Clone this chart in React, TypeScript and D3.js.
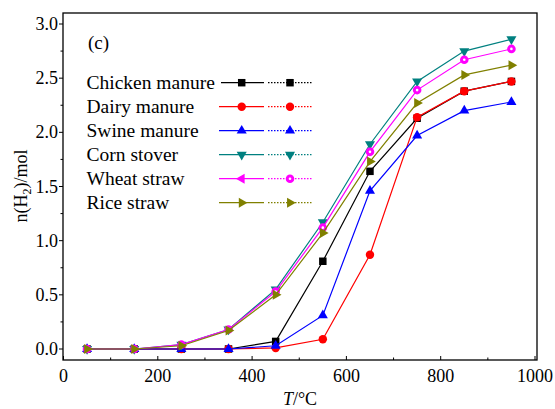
import React from "react";
import * as d3 from "d3";

// temperatures (°C) and n(H2) per series
const temps = [50, 150, 250, 350, 450, 550, 650, 750, 850, 950];
const chicken = [0, 0, 0, 0, 0.07, 0.81, 1.64, 2.13, 2.38, 2.47];
const dairy = [0, 0, 0, 0, 0.01, 0.09, 0.87, 2.14, 2.38, 2.47];
const swine = [0, 0, 0, 0, 0.03, 0.31, 1.46, 1.97, 2.2, 2.28];
const corn = [0, 0, 0.04, 0.18, 0.55, 1.17, 1.89, 2.47, 2.75, 2.86];
const wheat = [0, 0, 0.04, 0.18, 0.53, 1.12, 1.82, 2.39, 2.67, 2.77];
const rice = [0, 0, 0.03, 0.17, 0.5, 1.07, 1.73, 2.27, 2.53, 2.62];

const names = ["Chicken manure", "Dairy manure", "Swine manure", "Corn stover", "Wheat straw", "Rice straw"];
const colors = ["#000000", "#ff0000", "#0000ff", "#008080", "#ff00ff", "#808000"];
const values = [chicken, dairy, swine, corn, wheat, rice];

const xTicks = [0, 200, 400, 600, 800, 1000];
const yTicks = [0, 0.5, 1, 1.5, 2, 2.5, 3];

const FONT = "'Liberation Serif', 'Times New Roman', serif";

// marker: [d3 symbol, rotation, area]
const shapes: [d3.SymbolType, number, number][] = [
  [d3.symbolSquare, 0, 56],
  [d3.symbolCircle, 0, 56],
  [d3.symbolTriangle, 0, 44],
  [d3.symbolTriangle, 180, 44],
  [d3.symbolTriangle, -90, 44],
  [d3.symbolTriangle, 90, 44],
];

function Marker({ i, x, y, alt }: { i: number; x: number; y: number; alt?: boolean }) {
  const c = colors[i];
  if (i === 4 && alt) {
    // wheat straw, second series: circle with a light centre
    return (
      <g transform={`translate(${x},${y})`}>
        <circle r={4.3} fill={c} />
        <circle r={1.3} fill="#fff" />
      </g>
    );
  }
  const [type, rot, size] = shapes[i];
  const d = d3.symbol().type(type).size(size)()!;
  return <path d={d} fill={c} transform={`translate(${x},${y}) rotate(${rot})`} />;
}

export default function App() {
  const left = 63, right = 537, top = 13, bottom = 360;
  const x = d3.scaleLinear().domain([0, 1000]).range([63.5, 535]);
  const y = d3.scaleLinear().domain([0, 3]).range([349, 24]);

  const line = d3
    .line<number>()
    .x((_, k) => x(temps[k]))
    .y((v) => y(v));

  const xMinor = d3.range(100, 1000, 200);
  const yMinor = d3.range(0.25, 3, 0.5);

  return (
    <svg width={555} height={409} style={{ position: "absolute", left: 0, top: 0, background: "#fff" }} fontFamily={FONT}>
      {/* series */}
      {values.map((vals, i) => (
        <g key={names[i]}>
          <path d={line(vals)!} fill="none" stroke={colors[i]} strokeWidth={1.2} />
          {vals.map((v, k) => (
            <Marker key={k} i={i} x={x(temps[k])} y={y(v)} alt />
          ))}
        </g>
      ))}

      {/* frame */}
      <rect x={left} y={top} width={right - left} height={bottom - top} fill="none" stroke="#000" strokeWidth={1.3} />

      {/* x axis ticks (inward) */}
      {xTicks.map((t) => (
        <g key={t}>
          <line x1={x(t)} x2={x(t)} y1={bottom} y2={bottom - 4} stroke="#000" strokeWidth={1} />
          <text x={x(t)} y={382} fontSize={18} textAnchor="middle">
            {t}
          </text>
        </g>
      ))}
      {xMinor.map((t) => (
        <line key={t} x1={x(t)} x2={x(t)} y1={bottom} y2={bottom - 2.5} stroke="#000" strokeWidth={1} />
      ))}

      {/* y axis ticks (outward) */}
      {yTicks.map((t) => (
        <g key={t}>
          <line x1={left} x2={left - 4} y1={y(t)} y2={y(t)} stroke="#000" strokeWidth={1} />
          <text x={58} y={y(t) + 6} fontSize={18} textAnchor="end">
            {d3.format(".1f")(t)}
          </text>
        </g>
      ))}
      {yMinor.map((t) => (
        <line key={t} x1={left} x2={left - 2.5} y1={y(t)} y2={y(t)} stroke="#000" strokeWidth={1} />
      ))}

      {/* axis titles */}
      <text x={300} y={405} fontSize={18} textAnchor="middle">
        <tspan fontStyle="italic">T</tspan>/°C
      </text>
      <text transform="translate(27,186) rotate(-90)" fontSize={18} textAnchor="middle">
        n(H<tspan fontSize={12} dy={4}>2</tspan>
        <tspan dy={-4}>)/mol</tspan>
      </text>

      {/* panel tag */}
      <text x={88} y={49} fontSize={19}>
        (c)
      </text>

      {/* legend */}
      {names.map((n, i) => {
        const ly = 82.7 + i * 24;
        return (
          <g key={n}>
            <text x={86.5} y={ly + 6} fontSize={19.5}>
              {n}
            </text>
            <line x1={i === 0 ? 221 : 219} x2={264} y1={ly} y2={ly} stroke={colors[i]} strokeWidth={1.2} />
            <Marker i={i} x={241.7} y={ly} />
            <line x1={268} x2={313} y1={ly} y2={ly} stroke={colors[i]} strokeWidth={1.2} strokeDasharray="1.5,1.5" />
            <Marker i={i} x={290} y={ly} alt />
          </g>
        );
      })}
    </svg>
  );
}
